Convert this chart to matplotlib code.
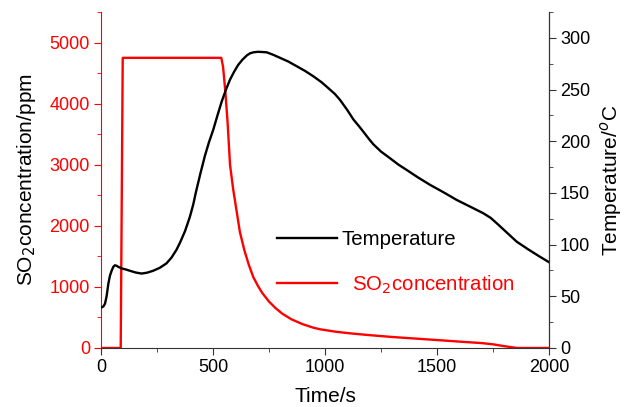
import numpy as np
import matplotlib
matplotlib.use("Agg")
import matplotlib.pyplot as plt
from matplotlib.ticker import MultipleLocator

plt.rcParams['font.family'] = ['Liberation Sans', 'DejaVu Sans']

# temperature readings (right axis, deg C)
temp_t = [0, 5, 12, 18, 25, 33, 40, 48, 55, 62, 70, 77, 92, 110, 129, 155, 181, 205,
          233, 262, 292, 315, 337, 353, 375, 397, 412, 424, 444, 464, 482, 501, 520,
          539, 558, 576, 595, 613, 632, 651, 665, 680, 700, 720, 740, 770, 800, 837,
          874, 911, 948, 985, 1022, 1045, 1067, 1100, 1127, 1150, 1172, 1195, 1216,
          1250, 1290, 1327, 1364, 1415, 1469, 1530, 1588, 1650, 1707, 1740, 1767,
          1810, 1856, 1910, 1960, 2000]
temp_v = [39.2, 39.5, 40.5, 43, 50, 62.4, 70, 75, 78.5, 80, 79.5, 78.5, 77, 76, 74.7,
          73, 72, 72.8, 74.7, 77.5, 81.8, 87.5, 95, 102, 113, 127, 139, 151, 169,
          186, 199, 211, 225, 238.5, 250, 259.6, 267.5, 274, 279, 283, 285, 286,
          286.5, 286.3, 286, 283.5, 280.6, 277, 272.5, 268, 262.8, 257, 250, 245.5,
          240, 230, 221, 215, 209, 202.5, 197, 190, 183.6, 177.5, 172.3, 165, 157.8,
          150.5, 143.2, 136.5, 130.3, 125.8, 120.6, 112, 102.8, 95, 88.2, 83]

# SO2 readings (left axis, ppm)
so2_t = [0, 88, 97, 537, 545, 555, 565, 576, 590, 605, 620, 640, 660, 680, 700, 720,
         750, 780, 810, 850, 900, 950, 980, 1050, 1125, 1200, 1300, 1400, 1500, 1617,
         1700, 1750, 1800, 1857, 2000]
so2_v = [0, 0, 4750, 4750, 4600, 4200, 3700, 3000, 2600, 2250, 1900, 1600, 1360, 1160,
         1020, 900, 760, 650, 560, 470, 390, 330, 305, 265, 235, 210, 180, 155, 130, 100,
         80, 60, 30, 0, 0]

red = '#ff0000'
grey = '#333333'

fig = plt.figure(figsize=(6.25, 4.07), dpi=100)
ax = fig.add_axes([0.1616, 0.145, 0.7168, 0.8255])
ax2 = ax.twinx()

l2, = ax.plot(so2_t, so2_v, color=red, lw=1.7, label='  SO$_2$concentration')
l1, = ax2.plot(temp_t, temp_v, color='black', lw=1.7, label='Temperature')

ax.set_xlim(0, 2000)
ax.set_ylim(0, 5500)
ax2.set_ylim(0, 325)

ax.xaxis.set_major_locator(MultipleLocator(500))
ax.xaxis.set_minor_locator(MultipleLocator(250))
ax.yaxis.set_major_locator(MultipleLocator(1000))
ax.yaxis.set_minor_locator(MultipleLocator(500))
ax2.yaxis.set_major_locator(MultipleLocator(50))
ax2.yaxis.set_minor_locator(MultipleLocator(25))

for a in (ax, ax2):
    a.spines['top'].set_visible(False)
ax.spines['left'].set_color(red)
ax.spines['bottom'].set_color(grey)
ax2.spines['left'].set_visible(False)
ax2.spines['right'].set_color(grey)
ax2.spines['bottom'].set_visible(False)

ax.tick_params(axis='x', which='both', direction='out', colors=grey, labelcolor='black', labelsize=13)
ax.tick_params(axis='y', which='both', direction='out', colors=red, labelcolor=red, labelsize=13)
ax2.tick_params(axis='y', which='both', direction='out', colors=grey, labelcolor='black', labelsize=13)
for a in (ax, ax2):
    a.tick_params(which='major', length=5, pad=3)
    a.tick_params(which='minor', length=3)

ax.set_xlabel('Time/s', fontsize=15, labelpad=8)
ax.set_ylabel('SO$_2$concentration/ppm', fontsize=15, labelpad=8.5)
ax2.set_ylabel('Temperature/$^o$C', fontsize=15, labelpad=5.5)

leg = ax2.legend(handles=[l1, l2], loc='upper left', bbox_to_anchor=(0.393, 0.351),
                 frameon=False, fontsize=14.7, handlelength=2.95, handletextpad=0.2,
                 labelspacing=1.2, borderpad=0, borderaxespad=0)
for txt, ln in zip(leg.get_texts(), [l1, l2]):
    txt.set_color(ln.get_color())

fig.savefig('out.png', dpi=100)
